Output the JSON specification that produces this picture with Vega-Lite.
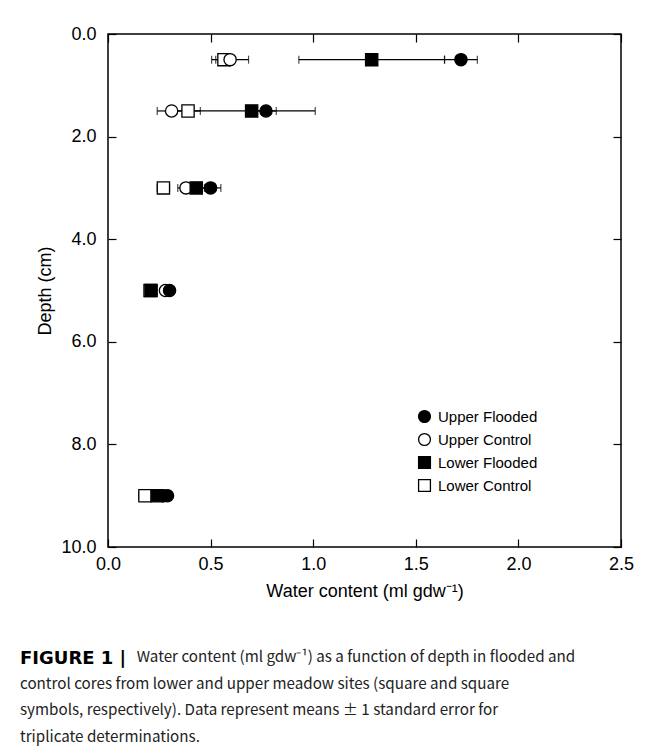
{
  "$schema": "https://vega.github.io/schema/vega-lite/v6.json",
  "width": 513,
  "height": 513,
  "autosize": {"type": "none"},
  "padding": {"left": 108, "top": 34, "right": 34, "bottom": 205},
  "background": "white",
  "config": {
    "view": {"stroke": "black", "strokeWidth": 1.5},
    "font": "Liberation Sans",
    "axis": {
      "grid": false,
      "domain": false,
      "tickColor": "black",
      "tickWidth": 1.2,
      "tickSize": -8,
      "labelColor": "black",
      "titleColor": "black",
      "labelFont": "Liberation Sans",
      "titleFont": "Liberation Sans",
      "labelFontSize": 18,
      "titleFontSize": 18,
      "titleFontWeight": "normal",
      "labelFlush": false
    }
  },
  "title": {
    "text": "FIGURE 1 |",
    "subtitle": [
      "\u2800\u2800\u2800\u2800\u2800\u2800\u2800\u2800\u2800\u2800\u00a0\u00a0Water content (ml gdw\u207b\u00b9) as a function of depth in flooded and",
      "control cores from lower and upper meadow sites (square and square",
      "symbols, respectively). Data represent means \u00b1 1 standard error for",
      "triplicate determinations."
    ],
    "orient": "bottom",
    "anchor": "start",
    "frame": "group",
    "dx": -88,
    "offset": 50,
    "font": "DejaVu Sans",
    "fontSize": 18,
    "fontWeight": "bold",
    "color": "black",
    "subtitleFont": "Noto Sans CJK SC",
    "subtitleFontSize": 15.2,
    "subtitleColor": "#222222",
    "subtitleLineHeight": 26.5,
    "subtitlePadding": -18
  },
  "data": {
    "values": [
      {"series": "Lower Control", "depth": 0.5, "mean": 0.565, "se": 0.04},
      {"series": "Upper Control", "depth": 0.5, "mean": 0.595, "se": 0.09},
      {"series": "Lower Flooded", "depth": 0.5, "mean": 1.285, "se": 0.355},
      {"series": "Upper Flooded", "depth": 0.5, "mean": 1.72, "se": 0.08},
      {"series": "Lower Control", "depth": 1.5, "mean": 0.39, "se": 0.06},
      {"series": "Upper Control", "depth": 1.5, "mean": 0.31, "se": 0.07},
      {"series": "Lower Flooded", "depth": 1.5, "mean": 0.70, "se": 0.31},
      {"series": "Upper Flooded", "depth": 1.5, "mean": 0.77, "se": 0.05},
      {"series": "Lower Control", "depth": 3, "mean": 0.27, "se": 0.03},
      {"series": "Upper Control", "depth": 3, "mean": 0.38, "se": 0.04},
      {"series": "Lower Flooded", "depth": 3, "mean": 0.43, "se": 0.04},
      {"series": "Upper Flooded", "depth": 3, "mean": 0.50, "se": 0.05},
      {"series": "Lower Control", "depth": 5, "mean": 0.205, "se": 0.01},
      {"series": "Upper Control", "depth": 5, "mean": 0.28, "se": 0.02},
      {"series": "Lower Flooded", "depth": 5, "mean": 0.21, "se": 0.02},
      {"series": "Upper Flooded", "depth": 5, "mean": 0.30, "se": 0.02},
      {"series": "Lower Control", "depth": 9, "mean": 0.18, "se": 0.03},
      {"series": "Upper Control", "depth": 9, "mean": 0.27, "se": 0.02},
      {"series": "Lower Flooded", "depth": 9, "mean": 0.24, "se": 0.02},
      {"series": "Upper Flooded", "depth": 9, "mean": 0.29, "se": 0.02}
    ]
  },
  "resolve": {"axis": {"x": "independent", "y": "independent"}},
  "layer": [
    {
      "mark": {"type": "errorbar", "ticks": {"size": 8, "thickness": 1.2}, "color": "black", "thickness": 1.2},
      "encoding": {
        "x": {
          "field": "mean", "type": "quantitative",
          "scale": {"domain": [0, 2.5], "nice": false, "zero": false},
          "axis": {"orient": "bottom", "values": [0, 0.5, 1, 1.5, 2, 2.5], "format": ".1f", "labelPadding": 16, "title": "Water content (ml gdw\u207b\u00b9)", "titlePadding": 9}
        },
        "xError": {"field": "se"},
        "y": {
          "field": "depth", "type": "quantitative",
          "scale": {"domain": [0, 10], "reverse": true, "nice": false, "zero": false},
          "axis": {"orient": "left", "values": [0, 2, 4, 6, 8, 10], "format": ".1f", "labelPadding": 20, "title": "Depth (cm)", "titlePadding": 6}
        }
      }
    },
    {
      "mark": {"type": "point", "strokeWidth": 1.3, "opacity": 1, "fillOpacity": 1},
      "encoding": {
        "x": {"field": "mean", "type": "quantitative", "axis": null},
        "y": {"field": "depth", "type": "quantitative", "axis": null},
        "shape": {
          "field": "series", "type": "nominal",
          "scale": {"domain": ["Upper Flooded", "Upper Control", "Lower Flooded", "Lower Control"], "range": ["circle", "circle", "square", "square"]},
          "legend": {"orient": "none", "legendX": 309, "legendY": 375, "title": null, "labelFontSize": 15, "labelColor": "black", "labelFont": "Liberation Sans", "symbolSize": 140, "symbolStrokeWidth": 1.3, "rowPadding": 4, "labelOffset": 6}
        },
        "fill": {
          "field": "series", "type": "nominal",
          "scale": {"domain": ["Upper Flooded", "Upper Control", "Lower Flooded", "Lower Control"], "range": ["black", "white", "black", "white"]},
          "legend": {"orient": "none", "legendX": 309, "legendY": 375, "title": null, "labelFontSize": 15, "labelColor": "black", "labelFont": "Liberation Sans", "symbolSize": 140, "symbolStrokeWidth": 1.3, "rowPadding": 4, "labelOffset": 6}
        },
        "stroke": {
          "field": "series", "type": "nominal",
          "scale": {"domain": ["Upper Flooded", "Upper Control", "Lower Flooded", "Lower Control"], "range": ["black", "black", "black", "black"]},
          "legend": {"orient": "none", "legendX": 309, "legendY": 375, "title": null, "labelFontSize": 15, "labelColor": "black", "labelFont": "Liberation Sans", "symbolSize": 140, "symbolStrokeWidth": 1.3, "rowPadding": 4, "labelOffset": 6}
        },
        "size": {"value": 150}
      }
    },
    {
      "mark": {"type": "point", "opacity": 0},
      "encoding": {
        "x": {"field": "mean", "type": "quantitative", "axis": {"orient": "top", "values": [0, 0.5, 1, 1.5, 2, 2.5], "labels": false, "title": null}},
        "y": {"field": "depth", "type": "quantitative", "axis": {"orient": "right", "values": [0, 2, 4, 6, 8, 10], "labels": false, "title": null}}
      }
    }
  ]
}
